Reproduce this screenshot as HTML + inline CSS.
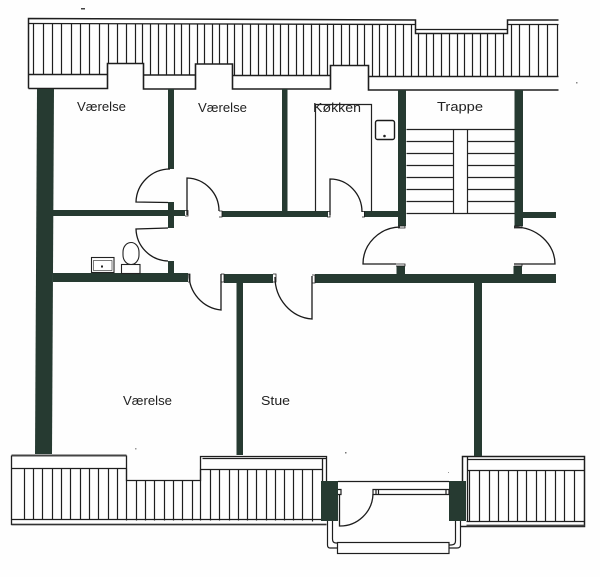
<!DOCTYPE html>
<html><head><meta charset="utf-8">
<style>html,body{margin:0;padding:0;background:#fff}svg{display:block}
text{font-family:"Liberation Sans",sans-serif;font-size:13px;fill:#222}</style></head>
<body>
<svg xmlns="http://www.w3.org/2000/svg" width="600" height="577" viewBox="0 0 600 577">
<rect width="600" height="577" fill="#fefefe"/>

<!-- top roof -->
<g fill="none" stroke="#1e1e1e" stroke-width="1.3" transform="translate(.5 .5)">
<path stroke-width="1.5" d="M28 88V18L415 19.500V33H507V19.500H558"/>
<path d="M28 23L415 24M415 29H507M507 24H558"/>
<path stroke-width="1.5" d="M28 74H107M143 74.500H195M232 75H330M368 76H558"/>
<path stroke-width="1.6" d="M28 88H107V63H143V88.500H195V63.500H232V88.500H330V65H368V89.500H558"/>
<path stroke-width="1.2" d="M33 23V74M43 23V74M52 23V74M61 23V74M71 23V74M80 23V74M89 23V74M99 23V74
M108 23V63M117 23V63M126 23V63M135 23V63M142 23V63
M150 23V74M158 23V74M166 23V74M174 23V74M181 23V74M189 23V74
M197 23V63M204 23V63M212 23V63M219 23V63M227 23V63
M234 23V75M242 23V75M250 23V75M258 23V75M266 23V75M273 23V75M280 23V75M288 23V75M296 23V75M303 23V75M311 23V75M319 23V75M327 23V75
M333 24V65M341 24V65M349 24V65M357 24V65M364 24V65
M372 24V76M379 24V76M387 24V76M395 24V76M403 24V76M411 24V76
M418 33V76M426 33V76M433 33V76M441 33V76M449 33V76M457 33V76M464 33V76M472 33V76M480 33V76M487 33V76M495 33V76M503 33V76
M511 24V76M519 24V76M529 24V76M538 24V76M547 24V76M557 24V76"/>
</g>

<!-- bottom-left roof -->
<g fill="none" stroke="#1e1e1e" stroke-width="1.3" transform="translate(.5 .5)">
<path stroke="#444" stroke-width="2" d="M11 455H126"/>
<path d="M11 455V524H326M126 455V480H200V456H326V482M200 469H322M11 468H126M202 458H326M322 458V481M11 519H321"/>
<path stroke="#333" stroke-width="1.6" d="M11 524H326"/>
<path stroke-width="1.2" d="M24 468V519M33 468V519M42 468V519M52 468V519M61 468V519M70 468V519M80 468V519M89 468V519M98 468V519M108 468V519M117 468V519
M126 468V520M136 480V520M145 480V520M154 480V520M164 480V520M173 480V520M182 480V520M192 480V520
M200 469V520M210 469V520M219 469V520M229 469V520M238 469V520M247 469V520M256 469V520M266 469V520M275 469V520M284 469V520M293 469V520M302 469V520M312 469V521"/>
</g>

<!-- bottom-right roof -->
<g fill="none" stroke="#1e1e1e" stroke-width="1.3" transform="translate(.5 .5)">
<path stroke-width="1.5" d="M462 481V456H584V526H460"/>
<path d="M467 456V521M467 459H584M467 470H584M466 521H584"/>
<path stroke-width="1.2" d="M469 470V521M479 470V521M489 470V521M498 470V521M508 470V521M517 470V521M526 470V521M536 470V521M545 470V521M555 470V521M564 470V521M574 470V521"/>
<path stroke="#444" stroke-width="1.8" d="M466 525H584"/>
</g>

<!-- walls -->
<g fill="#263a31">
<polygon points="37,89 54,89 52,454 35,454"/>
<rect x="168" y="89" width="6" height="80"/>
<rect x="282" y="89" width="5.500" height="122"/>
<rect x="398" y="90" width="8" height="136"/>
<rect x="514.500" y="90" width="8.500" height="136"/>
<rect x="53" y="210" width="132" height="6"/>
<rect x="168" y="202" width="6" height="26"/>
<rect x="222" y="211" width="106" height="6"/>
<rect x="364" y="211" width="34" height="6"/>
<rect x="523" y="212" width="33" height="6"/>
<rect x="53" y="273" width="135" height="9"/>
<rect x="168" y="261" width="6" height="12"/>
<rect x="224" y="274" width="49" height="9"/>
<rect x="315" y="274" width="241" height="9"/>
<rect x="396.500" y="266" width="8.500" height="9"/>
<rect x="513.500" y="266" width="8.500" height="9"/>
<rect x="236.500" y="282" width="6.500" height="173"/>
<rect x="474" y="282" width="8" height="174"/>
<rect x="321" y="481" width="17" height="40"/>
<rect x="449" y="481" width="17" height="40"/>
</g>

<!-- doors -->
<g fill="none" stroke="#1a1a1a" stroke-width="1.3">
<path d="M170 169A34 34 0 0 0 136 202L168 202.500"/>
<path d="M187 215V178A33 33 0 0 1 219 211"/>
<path d="M168 228L136 229A33 33 0 0 0 168 261"/>
<path d="M189 274A36 36 0 0 0 221 310V274"/>
<path d="M275 277A40 42 0 0 0 312 319V276"/>
<path d="M330 215V179A32 33 0 0 1 362 212"/>
<path d="M400 227A38 37 0 0 0 363 264H396"/>
<path d="M514 227A41 37 0 0 1 555 264H514"/>
<path stroke-width=".8" d="M185 210.500H188V216H185M219 211H222V217H219M327 211.500H330V217H327M362 211.500H364.500V217H362M188 274H190V282H188M221 274H224V282H221M273 274H276V282H273M312 275H315V283H312M398 226H405V228H398M514 226H522V228H514M396 264H405V266H396M514 264H522V266H514"/>
</g>

<!-- kitchen -->
<g fill="none" stroke="#222" stroke-width="1.2" transform="translate(.5 .5)">
<path d="M315 211V104H371V211"/>
<rect x="375" y="120" width="19" height="19" rx="2" stroke="#1a1a1a" stroke-width="1.4"/>
</g>
<circle cx="384.500" cy="136" r="1.300" fill="#222"/>

<!-- stairs -->
<g fill="none" stroke="#222" stroke-width="1.2" transform="translate(.5 .5)">
<path d="M406 129H514M406 141H453M406 153H453M406 165H453M406 177H453M406 189H453M406 201H453M406 213H514
M467 141H514M467 153H514M467 165H514M467 177H514M467 189H514M467 201H514M453 129V213M467 129V213"/>
</g>

<!-- bath -->
<g fill="#fff" stroke="#222" stroke-width="1.100" transform="translate(.5 .5)">
<rect x="91" y="257" width="22.500" height="15"/>
<rect x="93" y="260" width="18.500" height="10" stroke-width=".6"/>
<rect x="121" y="264" width="18.500" height="9"/>
<rect x="122.500" y="242" width="16" height="22" rx="8" ry="9.500"/>
</g>
<rect x="101" y="265.500" width="2" height="2" fill="#222"/>

<!-- balcony -->
<g fill="none" stroke="#1e1e1e" stroke-width="1.200">
<path stroke-width="1.300" d="M338 481.500H449"/>
<path d="M373 489.500H449V494.500H373ZM376 489.500V494.500M378.500 489.500V494.500M446 489.500V494.500M338 489.500H341V494.500H338"/>
<path stroke-width="1.300" d="M339.500 494V526A33 33 0 0 0 373 494"/>
<rect x="337.500" y="542.500" width="111.500" height="11"/>
<path d="M327.500 521V545Q327.500 548 330 548H337M332.500 521V539Q332.500 543 336 543H337M455.500 521V541Q455.500 545 451 545H449M460.500 521V545Q460.500 548 457 548H449"/>
</g>

<!-- labels -->
<text x="77" y="111" textLength="49" lengthAdjust="spacingAndGlyphs">Værelse</text>
<text x="198" y="112" textLength="49" lengthAdjust="spacingAndGlyphs">Værelse</text>
<text x="313" y="112" textLength="48" lengthAdjust="spacingAndGlyphs">Køkken</text>
<text x="437" y="111" textLength="46" lengthAdjust="spacingAndGlyphs">Trappe</text>
<text x="123" y="405" textLength="49" lengthAdjust="spacingAndGlyphs">Værelse</text>
<text x="261" y="405" textLength="29" lengthAdjust="spacingAndGlyphs">Stue</text>

<!-- specks -->
<g fill="#444">
<rect x="81" y="8" width="4" height="1.500"/>
<rect x="576" y="82" width="1.500" height="1.500" fill="#888"/>
<rect x="345" y="452" width="1.500" height="1.500" fill="#777"/>
<rect x="448" y="472" width="1" height="1" fill="#999"/>
<rect x="135" y="448" width="1.500" height="1.500" fill="#999"/>
</g>
</svg>
</body></html>
